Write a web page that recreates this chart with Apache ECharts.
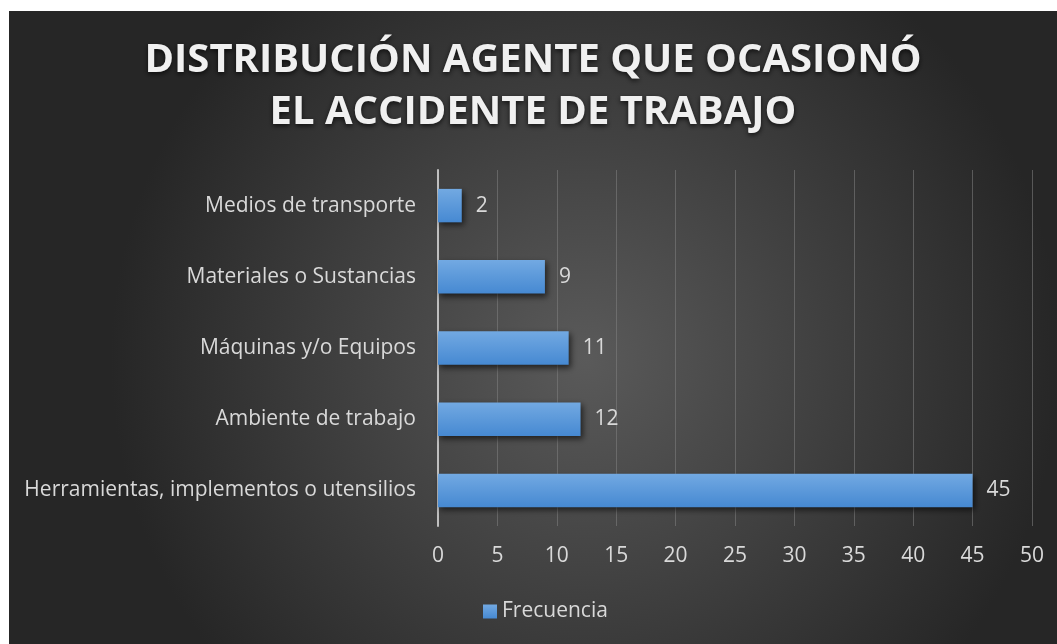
<!DOCTYPE html>
<html>
<head>
<meta charset="utf-8">
<script src="https://cdn.jsdelivr.net/npm/echarts@6/dist/echarts.min.js"></script>
<style>
html,body{margin:0;padding:0;background:#fff;width:1057px;height:644px;overflow:hidden;}
#chart{position:absolute;left:9px;top:11px;width:1048px;height:633px;}
</style>
</head>
<body>
<div id="chart"></div>
<script>
var titleText = 'DISTRIBUCIÓN AGENTE QUE OCASIONÓ\nEL ACCIDENTE DE TRABAJO';
var categories = ['Herramientas, implementos o utensilios', 'Ambiente de trabajo', 'Máquinas y/o Equipos', 'Materiales o Sustancias', 'Medios de transporte'];
var frecuencia = [45, 12, 11, 9, 2];
var seriesName = 'Frecuencia';

var chart = echarts.init(document.getElementById('chart'));
chart.setOption({
  backgroundColor: {
    type: 'radial', x: 0.55, y: 0.55, r: 0.75,
    colorStops: [{offset: 0, color: '#5a5a5a'}, {offset: 1, color: '#262626'}]
  },
  title: {
    text: titleText,
    left: 'center',
    top: 19,
    textStyle: {
      fontFamily: 'Open Sans', fontWeight: 'bold', fontSize: 40, lineHeight: 52,
      color: '#f0f0f0', textShadowColor: 'rgba(0,0,0,0.7)', textShadowBlur: 5, textShadowOffsetY: 2
    }
  },
  legend: {
    data: [seriesName],
    left: 469,
    bottom: 17,
    itemWidth: 14, itemHeight: 14, itemGap: 6,
    icon: 'rect',
    textStyle: {fontFamily: 'Open Sans', fontSize: 21, color: '#d9d9d9'}
  },
  grid: {left: 429, right: 25, top: 159, bottom: 118},
  xAxis: {
    type: 'value', min: 0, max: 50, interval: 5,
    axisLine: {show: false},
    axisTick: {show: false},
    splitLine: {lineStyle: {color: 'rgba(130,130,130,0.55)', width: 1}},
    axisLabel: {fontFamily: 'Open Sans', fontSize: 21, color: '#d9d9d9', margin: 20}
  },
  yAxis: {
    type: 'category', data: categories,
    axisLine: {lineStyle: {color: '#bfbfbf', width: 2}},
    axisTick: {show: false},
    axisLabel: {fontFamily: 'Open Sans', fontSize: 21, color: '#d9d9d9', margin: 22}
  },
  series: [{
    name: seriesName,
    type: 'bar',
    data: frecuencia,
    barWidth: '47%',
    itemStyle: {
      color: {type: 'linear', x: 0, y: 0, x2: 0, y2: 1,
        colorStops: [{offset: 0, color: '#72a9e2'}, {offset: 1, color: '#4689d2'}]},
      shadowColor: 'rgba(0,0,0,0.6)', shadowBlur: 6, shadowOffsetX: 2, shadowOffsetY: 3
    },
    label: {show: true, position: 'right', distance: 14, fontFamily: 'Open Sans', fontSize: 21, color: '#d9d9d9'}
  }]
});
</script>
</body>
</html>
